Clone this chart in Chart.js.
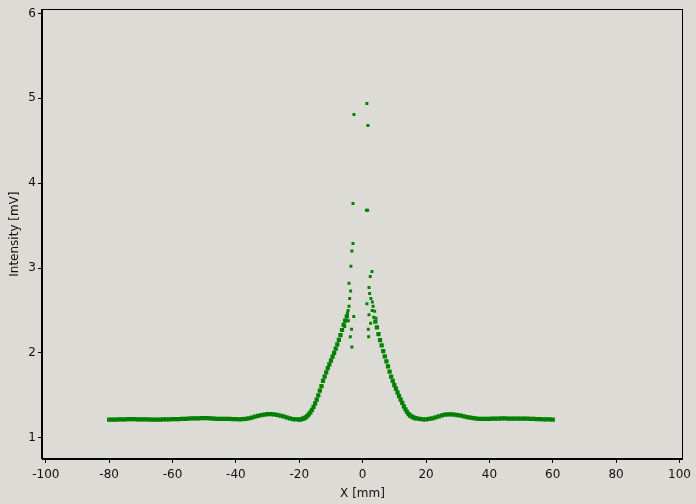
<!DOCTYPE html>
<html>
<head>
<meta charset="utf-8">
<script src="https://cdn.jsdelivr.net/npm/chart.js@4/dist/chart.umd.min.js"></script>
<style>
html,body{margin:0;padding:0;background:#dcdbd6;}
#wrap{width:696px;height:504px;}
</style>
</head>
<body>
<div id="wrap"><canvas id="c" width="696" height="504"></canvas></div>
<script>
// Curve samples (X [mm])
const xValues = [
-80,-79,-78,-77,-76,-75,-74,-73,-72,-71,-70,-69,-68,-67,-66,-65,-64,-63,-62,-61,
-60,-59,-58,-57,-56,-55,-54,-53,-52,-51,-50,-49,-48,-47,-46,-45,-44,-43,-42,-41,
-40,-39,-38,-37,-36,-35,-34,-33,-32,-31,-30,-29,-28,-27,-26,-25,-24,-23,-22,-21,
-20,-19.5,-19,-18.5,-18,-17.5,-17,-16.5,-16,-15.5,-15,-14.5,-14,-13.5,-13,-12.5,-12,-11.5,-11,-10.5,
-10,-9.5,-9,-8.5,-8,-7.5,-7,-6.5,-6,-5.5,-5,
4,4.5,5,5.5,6,6.5,7,7.5,8,8.5,9,9.5,10,10.5,11,11.5,12,12.5,13,13.5,14,14.5,15,15.5,16,16.5,17,
18,19,20,21,22,23,24,25,26,27,28,29,30,31,32,33,34,35,36,37,38,39,40,
41,42,43,44,45,46,47,48,49,50,51,52,53,54,55,56,57,58,59,60
];
// Intensity [mV]
const yValues = [
1.215,1.215,1.215,1.216,1.217,1.218,1.219,1.220,1.219,1.218,1.218,1.217,1.216,1.215,1.214,1.214,1.215,1.216,1.217,1.218,
1.219,1.220,1.221,1.222,1.224,1.226,1.228,1.229,1.230,1.231,1.232,1.231,1.229,1.226,1.224,1.222,1.222,1.223,1.222,1.220,
1.219,1.218,1.220,1.224,1.230,1.238,1.248,1.258,1.267,1.274,1.278,1.279,1.276,1.270,1.262,1.252,1.240,1.229,1.221,1.216,
1.215,1.217,1.222,1.230,1.240,1.255,1.275,1.300,1.330,1.365,1.405,1.450,1.500,1.555,1.610,1.670,1.720,1.770,1.820,1.865,
1.910,1.955,2.000,2.050,2.100,2.155,2.210,2.270,2.330,2.380,2.430,
2.370,2.300,2.220,2.150,2.090,2.020,1.960,1.900,1.840,1.780,1.720,1.670,1.620,1.580,1.535,1.490,1.450,1.410,1.370,1.335,1.305,1.280,1.262,1.250,1.240,1.233,1.228,
1.222,1.218,1.218,1.222,1.230,1.240,1.252,1.264,1.272,1.276,1.277,1.274,1.268,1.260,1.252,1.244,1.237,1.231,1.227,1.224,1.223,1.223,1.224,
1.225,1.226,1.227,1.228,1.228,1.227,1.226,1.225,1.225,1.226,1.227,1.226,1.224,1.222,1.220,1.219,1.218,1.217,1.216,1.215
];
// Scattered samples near the peak
const peakX = [-4.8,-4.6,-4.3,-4.1,-4.3,-3.8,-3.7,-3.4,-3.05,-3.05,-2.74,-2.8,-3.9,-3.4,-5.65,-4.5,-3.5,
  1.35,1.67,1.57,1.2,2.93,2.4,2.0,2.2,2.6,3.06,1.35,3.8,2.0,1.9,3.3,3.5,2.5,1.8,4.2,3.0];
const peakY = [2.47,2.50,2.55,2.64,2.82,2.73,3.02,3.20,3.29,3.76,4.81,2.43,2.19,2.07,2.31,2.38,2.28,
  4.94,4.68,3.68,3.68,2.96,2.90,2.77,2.70,2.64,2.60,2.58,2.49,2.45,2.19,2.55,2.42,2.35,2.28,2.41,2.50];

const xTicks = [-100,-80,-60,-40,-20,0,20,40,60,80,100];
const yTicks = [1,2,3,4,5,6];

const points = [];
xValues.forEach((x,i)=>points.push({x:x,y:yValues[i]}));
peakX.forEach((x,i)=>points.push({x:x,y:peakY[i]}));
const nCurve = xValues.length;

const bgPlugin = {
  id:'bg',
  beforeDraw(chart){
    const ctx = chart.ctx;
    ctx.save();
    ctx.fillStyle = '#dcdbd6';
    ctx.fillRect(0,0,chart.width,chart.height);
    ctx.restore();
  },
  afterDraw(chart){
    const a = chart.chartArea, ctx = chart.ctx;
    ctx.save();
    ctx.strokeStyle = '#000';
    ctx.lineWidth = 1;
    ctx.strokeRect(Math.round(a.left)-0.5, Math.round(a.top)+0.5, Math.round(a.right-a.left), Math.round(a.bottom-a.top)-1);
    ctx.restore();
  }
};

const font = {family:'"DejaVu Sans", sans-serif', size:12};

new Chart(document.getElementById('c'), {
  type:'scatter',
  data:{datasets:[{
    data:points,
    pointStyle:'rect',
    pointRadius:(c)=> c.dataIndex < nCurve ? 3.0 : 2.1,
    pointBorderWidth:0,
    backgroundColor:'#008000',
    borderColor:'#008000'
  }]},
  options:{
    responsive:false,
    animation:false,
    events:[],
    layout:{padding:{top:8,right:12,left:0,bottom:0}},
    plugins:{legend:{display:false},tooltip:{enabled:false}},
    scales:{
      x:{
        type:'linear', min:-101.2, max:101.1,
        afterBuildTicks(s){ s.ticks = xTicks.map(v=>({value:v})); },
        afterFit(s){ s.height = 45; },
        grid:{display:true, drawOnChartArea:false, drawTicks:true, tickLength:4, color:'#000'},
        border:{display:true, color:'#000'},
        ticks:{font:font, color:'#111', padding:5, maxRotation:0, autoSkip:false},
        title:{display:true, text:'X [mm]', font:font, color:'#111', padding:{top:0,bottom:3}}
      },
      y:{
        type:'linear', min:0.75, max:6.05,
        afterBuildTicks(s){ s.ticks = yTicks.map(v=>({value:v})); },
        afterFit(s){ s.width = 42; },
        grid:{display:true, drawOnChartArea:false, drawTicks:true, tickLength:4, color:'#000'},
        border:{display:true, color:'#000'},
        ticks:{font:font, color:'#111', padding:2, autoSkip:false},
        title:{display:true, text:'Intensity [mV]', font:font, color:'#111', padding:{top:8,bottom:0}}
      }
    }
  },
  plugins:[bgPlugin]
});
</script>
</body>
</html>
